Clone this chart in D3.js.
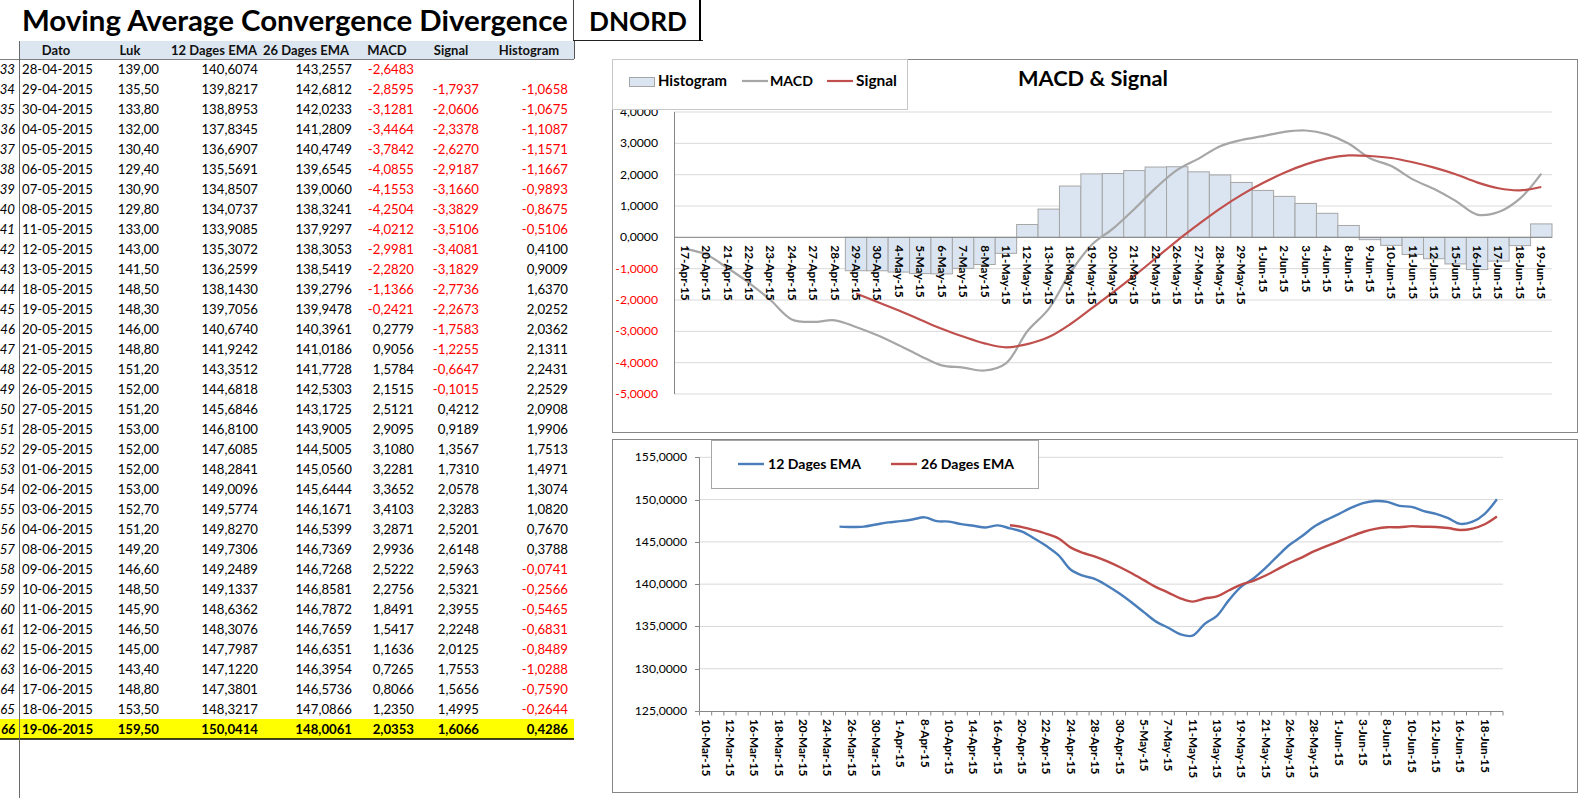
<!DOCTYPE html>
<html>
<head>
<meta charset="utf-8">
<script src="https://cdn.jsdelivr.net/npm/d3@7"></script>
<style>
  body { margin: 0; background: #fff; }
  svg text { font-family: Lato, "Open Sans", sans-serif; }
</style>
</head>
<body>
<svg id="sheet" width="1585" height="798"></svg>
<script>
// ---- table data ----
const rowNums = d3.range(33, 67);
const dato = ['28-04-2015','29-04-2015','30-04-2015','04-05-2015','05-05-2015','06-05-2015','07-05-2015','08-05-2015','11-05-2015','12-05-2015','13-05-2015','18-05-2015','19-05-2015','20-05-2015','21-05-2015','22-05-2015','26-05-2015','27-05-2015','28-05-2015','29-05-2015','01-06-2015','02-06-2015','03-06-2015','04-06-2015','08-06-2015','09-06-2015','10-06-2015','11-06-2015','12-06-2015','15-06-2015','16-06-2015','17-06-2015','18-06-2015','19-06-2015'];
const luk = [139.00,135.50,133.80,132.00,130.40,129.40,130.90,129.80,133.00,143.00,141.50,148.50,148.30,146.00,148.80,151.20,152.00,151.20,153.00,152.00,152.00,153.00,152.70,151.20,149.20,146.60,148.50,145.90,146.50,145.00,143.40,148.80,153.50,159.50];
const ema12 = [140.6074,139.8217,138.8953,137.8345,136.6907,135.5691,134.8507,134.0737,133.9085,135.3072,136.2599,138.1430,139.7056,140.6740,141.9242,143.3512,144.6818,145.6846,146.8100,147.6085,148.2841,149.0096,149.5774,149.8270,149.7306,149.2489,149.1337,148.6362,148.3076,147.7987,147.1220,147.3801,148.3217,150.0414];
const ema26 = [143.2557,142.6812,142.0233,141.2809,140.4749,139.6545,139.0060,138.3241,137.9297,138.3053,138.5419,139.2796,139.9478,140.3961,141.0186,141.7728,142.5303,143.1725,143.9005,144.5005,145.0560,145.6444,146.1671,146.5399,146.7369,146.7268,146.8581,146.7872,146.7659,146.6351,146.3954,146.5736,147.0866,148.0061];
const macd = [-2.6483,-2.8595,-3.1281,-3.4464,-3.7842,-4.0855,-4.1553,-4.2504,-4.0212,-2.9981,-2.2820,-1.1366,-0.2421,0.2779,0.9056,1.5784,2.1515,2.5121,2.9095,3.1080,3.2281,3.3652,3.4103,3.2871,2.9936,2.5222,2.2756,1.8491,1.5417,1.1636,0.7265,0.8066,1.2350,2.0353];
const signal = [null,-1.7937,-2.0606,-2.3378,-2.6270,-2.9187,-3.1660,-3.3829,-3.5106,-3.4081,-3.1829,-2.7736,-2.2673,-1.7583,-1.2255,-0.6647,-0.1015,0.4212,0.9189,1.3567,1.7310,2.0578,2.3283,2.5201,2.6148,2.5963,2.5321,2.3955,2.2248,2.0125,1.7553,1.5656,1.4995,1.6066];
const histogram = [null,-1.0658,-1.0675,-1.1087,-1.1571,-1.1667,-0.9893,-0.8675,-0.5106,0.4100,0.9009,1.6370,2.0252,2.0362,2.1311,2.2431,2.2529,2.0908,1.9906,1.7513,1.4971,1.3074,1.0820,0.7670,0.3788,-0.0741,-0.2566,-0.5465,-0.6831,-0.8489,-1.0288,-0.7590,-0.2644,0.4286];

// ---- chart categories and the rows above the visible table ----
const emaDates = ['10-Mar-15','11-Mar-15','12-Mar-15','13-Mar-15','16-Mar-15','17-Mar-15','18-Mar-15','19-Mar-15','20-Mar-15','23-Mar-15','24-Mar-15','25-Mar-15','26-Mar-15','27-Mar-15','30-Mar-15','31-Mar-15','1-Apr-15','7-Apr-15','8-Apr-15','9-Apr-15','10-Apr-15','13-Apr-15','14-Apr-15','15-Apr-15','16-Apr-15','17-Apr-15','20-Apr-15','21-Apr-15','22-Apr-15','23-Apr-15','24-Apr-15','27-Apr-15','28-Apr-15','29-Apr-15','30-Apr-15','4-May-15','5-May-15','6-May-15','7-May-15','8-May-15','11-May-15','12-May-15','13-May-15','18-May-15','19-May-15','20-May-15','21-May-15','22-May-15','26-May-15','27-May-15','28-May-15','29-May-15','1-Jun-15','2-Jun-15','3-Jun-15','4-Jun-15','8-Jun-15','9-Jun-15','10-Jun-15','11-Jun-15','12-Jun-15','15-Jun-15','16-Jun-15','17-Jun-15','18-Jun-15','19-Jun-15'];
const ema12Early = [146.80,146.75,146.80,147.05,147.30,147.45,147.65,147.90,147.45,147.40,147.10,146.90,146.70,146.95,146.60,146.20,145.40,144.50,143.40,141.70,141.00]; // 25-Mar .. 27-Apr
const ema26Early = [146.97,146.75,146.38,145.95,145.40,144.32,143.70]; // 17-Apr .. 27-Apr
const macdEarly = [-0.37,-0.55,-0.98,-1.45,-2.00,-2.62,-2.70];          // 17-Apr .. 27-Apr
const macdTicks = d3.range(-5, 5);
const emaTicks = d3.range(125, 156, 5);

const svg = d3.select('#sheet');
const comma = (v, n) => v.toFixed(n).replace('.', ',');
const red = '#ff0000';

function fitWidth(t, w) {
  const fs = parseFloat(t.attr('font-size'));
  t.attr('font-size', fs * w / t.node().getComputedTextLength());
  return t;
}

// ================= spreadsheet =================
const rowTop = 59, rowH = 20;

// title + ticker
fitWidth(svg.append('text').attr('x', 22).attr('y', 31)
  .attr('font-size', 28).attr('font-weight', 'bold')
  .text('Moving Average Convergence Divergence'), 546);
fitWidth(svg.append('text').attr('x', 638).attr('y', 31)
  .attr('text-anchor', 'middle')
  .attr('font-size', 28).attr('font-weight', 'bold').text('DNORD'), 98);

svg.append('line').attr('x1', 573.5).attr('x2', 573.5).attr('y1', 0).attr('y2', 40).attr('stroke', '#444');
svg.append('line').attr('x1', 573).attr('x2', 703).attr('y1', 40.5).attr('y2', 40.5).attr('stroke', '#222');
svg.append('line').attr('x1', 700).attr('x2', 700).attr('y1', 0).attr('y2', 41).attr('stroke', '#000').attr('stroke-width', 2);

// header band
svg.append('rect').attr('x', 19).attr('y', 41).attr('width', 555).attr('height', 18).attr('fill', '#dce6f1');
svg.append('line').attr('x1', 0).attr('x2', 574).attr('y1', 59.5).attr('y2', 59.5).attr('stroke', '#7f7f7f');
svg.append('line').attr('x1', 574.5).attr('x2', 574.5).attr('y1', 41).attr('y2', 59).attr('stroke', '#555');

const headers = ['Dato', 'Luk', '12 Dages EMA', '26 Dages EMA', 'MACD', 'Signal', 'Histogram'];
const headerX = [56, 130, 214, 306, 387, 451, 529];
svg.append('g').selectAll('text').data(headers).join('text')
  .attr('x', (d, i) => headerX[i]).attr('y', 54.5)
  .attr('text-anchor', 'middle').attr('font-size', 13).attr('font-weight', 'bold')
  .attr('fill', '#111').text(d => d);

// highlighted last row
svg.append('rect').attr('x', 0).attr('y', rowTop + 33 * rowH).attr('width', 574).attr('height', rowH).attr('fill', '#ffff00');
svg.append('line').attr('x1', 0).attr('x2', 574).attr('y1', rowTop + 34 * rowH).attr('y2', rowTop + 34 * rowH)
  .attr('stroke', '#000').attr('stroke-width', 1.5);

// row number separator
svg.append('line').attr('x1', 19.5).attr('x2', 19.5).attr('y1', 41).attr('y2', 798).attr('stroke', '#6a6a6a');

const rows = svg.append('g').selectAll('g').data(rowNums).join('g')
  .attr('transform', (d, i) => `translate(0,${rowTop + i * rowH + 14.8})`)
  .attr('font-size', 13.2)
  .attr('font-weight', (d, i) => i === 33 ? 'bold' : 'normal');

rows.append('text').attr('x', 15).attr('text-anchor', 'end').attr('font-style', 'italic').text(d => d);
rows.append('text').attr('x', 22).text((d, i) => dato[i]);

const numCols = [
  { vals: luk, x: 159, dec: 2 },
  { vals: ema12, x: 258, dec: 4 },
  { vals: ema26, x: 352, dec: 4 },
  { vals: macd, x: 414, dec: 4 },
  { vals: signal, x: 479, dec: 4 },
  { vals: histogram, x: 568, dec: 4 }
];
numCols.forEach(c => {
  rows.append('text').attr('x', c.x).attr('text-anchor', 'end')
    .attr('fill', (d, i) => c.vals[i] < 0 ? red : '#000')
    .text((d, i) => c.vals[i] == null ? '' : comma(c.vals[i], c.dec));
});

// ================= MACD & Signal chart =================
const macdDates = emaDates.slice(25);
const macdSeries = macdEarly.concat(macd);
const signalSeries = Array(7).fill(null).concat(signal);
const histSeries = Array(7).fill(null).concat(histogram);

const c1 = svg.append('g');
c1.append('rect').attr('x', 612.5).attr('y', 59.5).attr('width', 965).attr('height', 373)
  .attr('fill', '#fff').attr('stroke', '#868686');

const x1 = d3.scaleBand().domain(macdDates).range([674, 1552]).padding(0);
const y1 = d3.scaleLinear().domain([-5, 4]).range([394, 112]);

c1.append('g').selectAll('line').data(macdTicks).join('line')
  .attr('x1', 674).attr('x2', 1552).attr('y1', d => y1(d)).attr('y2', d => y1(d))
  .attr('stroke', '#d9d9d9');

c1.append('g').selectAll('text').data(macdTicks).join('text')
  .attr('x', 658).attr('y', d => y1(d) + 4).attr('text-anchor', 'end')
  .attr('font-size', 12.2).attr('fill', d => d < 0 ? red : '#000')
  .text(d => comma(d, 4));

c1.append('g').selectAll('rect').data(macdDates.map((d, i) => [d, histSeries[i]]).filter(d => d[1] != null)).join('rect')
  .attr('x', d => x1(d[0])).attr('width', x1.bandwidth())
  .attr('y', d => Math.min(y1(d[1]), y1(0))).attr('height', d => Math.abs(y1(d[1]) - y1(0)))
  .attr('fill', '#dbe5f1').attr('stroke', '#a6a6a6');

c1.append('line').attr('x1', 674).attr('x2', 1552).attr('y1', y1(0)).attr('y2', y1(0)).attr('stroke', '#868686');
c1.append('line').attr('x1', 674.5).attr('x2', 674.5).attr('y1', y1(4)).attr('y2', y1(-5)).attr('stroke', '#868686');

const line1 = d3.line()
  .defined(d => d[1] != null)
  .x(d => x1(d[0]) + x1.bandwidth() / 2).y(d => y1(d[1]))
  .curve(d3.curveCatmullRom.alpha(0.5));

c1.append('path').attr('d', line1(macdDates.map((d, i) => [d, macdSeries[i]])))
  .attr('fill', 'none').attr('stroke', '#a6a6a6').attr('stroke-width', 2.2);
c1.append('path').attr('d', line1(macdDates.map((d, i) => [d, signalSeries[i]])))
  .attr('fill', 'none').attr('stroke', '#c0504d').attr('stroke-width', 2.2);

c1.append('g').selectAll('text').data(macdDates).join('text')
  .attr('transform', d => `translate(${x1(d) + x1.bandwidth() / 2 - 4},${y1(0) + 8}) rotate(90)`)
  .attr('font-size', 11.8).attr('font-weight', 'bold').text(d => d);

// legend
c1.append('rect').attr('x', 612.5).attr('y', 59.5).attr('width', 295).attr('height', 50)
  .attr('fill', '#fff').attr('stroke', '#c8c8c8');
c1.append('rect').attr('x', 629.5).attr('y', 77.5).attr('width', 25).attr('height', 9)
  .attr('fill', '#dbe5f1').attr('stroke', '#a6a6a6');
fitWidth(c1.append('text').attr('x', 658).attr('y', 86).attr('font-size', 14).attr('font-weight', 'bold').text('Histogram'), 69);
c1.append('line').attr('x1', 742).attr('x2', 768).attr('y1', 81).attr('y2', 81).attr('stroke', '#a6a6a6').attr('stroke-width', 2.2);
fitWidth(c1.append('text').attr('x', 770).attr('y', 86).attr('font-size', 14).attr('font-weight', 'bold').text('MACD'), 43);
c1.append('line').attr('x1', 827).attr('x2', 853).attr('y1', 81).attr('y2', 81).attr('stroke', '#c0504d').attr('stroke-width', 2.2);
fitWidth(c1.append('text').attr('x', 856).attr('y', 86).attr('font-size', 14).attr('font-weight', 'bold').text('Signal'), 41);

fitWidth(c1.append('text').attr('x', 1093).attr('y', 86).attr('text-anchor', 'middle')
  .attr('font-size', 20).attr('font-weight', 'bold').text('MACD & Signal'), 150);

// ================= EMA chart =================
const ema12Series = Array(11).fill(null).concat(ema12Early, ema12);
const ema26Series = Array(25).fill(null).concat(ema26Early, ema26);

const c2 = svg.append('g');
c2.append('rect').attr('x', 612.5).attr('y', 439.5).attr('width', 965).attr('height', 353)
  .attr('fill', '#fff').attr('stroke', '#868686');

const x2 = d3.scaleBand().domain(emaDates).range([699.5, 1503]).padding(0);
const y2 = d3.scaleLinear().domain([125, 155]).range([711, 457.3]);

c2.append('g').selectAll('line').data(emaTicks.slice(1)).join('line')
  .attr('x1', 699.5).attr('x2', 1503).attr('y1', d => y2(d)).attr('y2', d => y2(d))
  .attr('stroke', '#d9d9d9');

c2.append('g').selectAll('text').data(emaTicks).join('text')
  .attr('x', 687).attr('y', d => y2(d) + 4).attr('text-anchor', 'end')
  .attr('font-size', 12.2).text(d => comma(d, 4));

c2.append('g').selectAll('line').data(emaTicks).join('line')
  .attr('x1', 695).attr('x2', 699.5).attr('y1', d => Math.round(y2(d)) + 0.5).attr('y2', d => Math.round(y2(d)) + 0.5)
  .attr('stroke', '#868686');
c2.append('line').attr('x1', 699.5).attr('x2', 699.5).attr('y1', y2(155)).attr('y2', y2(125)).attr('stroke', '#868686');
c2.append('line').attr('x1', 699.5).attr('x2', 1503).attr('y1', 711.5).attr('y2', 711.5).attr('stroke', '#868686');
c2.append('g').selectAll('line').data(emaDates.concat([null])).join('line')
  .attr('x1', (d, i) => 699.5 + i * x2.step()).attr('x2', (d, i) => 699.5 + i * x2.step())
  .attr('y1', 711.5).attr('y2', 715.5).attr('stroke', '#868686');

c2.append('g').selectAll('text').data(emaDates.filter((d, i) => i % 2 === 0)).join('text')
  .attr('transform', d => `translate(${x2(d) + x2.bandwidth() / 2 - 4},${719}) rotate(90)`)
  .attr('font-size', 11.8).attr('font-weight', 'bold').text(d => d);

const line2 = d3.line()
  .defined(d => d[1] != null)
  .x(d => x2(d[0]) + x2.bandwidth() / 2).y(d => y2(d[1]))
  .curve(d3.curveCatmullRom.alpha(0.5));

c2.append('path').attr('d', line2(emaDates.map((d, i) => [d, ema12Series[i]])))
  .attr('fill', 'none').attr('stroke', '#4a7ebb').attr('stroke-width', 2.4);
c2.append('path').attr('d', line2(emaDates.map((d, i) => [d, ema26Series[i]])))
  .attr('fill', 'none').attr('stroke', '#be4b48').attr('stroke-width', 2.4);

// legend
c2.append('rect').attr('x', 711.5).attr('y', 440.5).attr('width', 327).attr('height', 48)
  .attr('fill', '#fff').attr('stroke', '#a6a6a6');
c2.append('line').attr('x1', 738).attr('x2', 764).attr('y1', 464).attr('y2', 464).attr('stroke', '#4a7ebb').attr('stroke-width', 2.4);
fitWidth(c2.append('text').attr('x', 768).attr('y', 469).attr('font-size', 14).attr('font-weight', 'bold').text('12 Dages EMA'), 93);
c2.append('line').attr('x1', 891).attr('x2', 917).attr('y1', 464).attr('y2', 464).attr('stroke', '#be4b48').attr('stroke-width', 2.4);
fitWidth(c2.append('text').attr('x', 921).attr('y', 469).attr('font-size', 14).attr('font-weight', 'bold').text('26 Dages EMA'), 93);
</script>
</body>
</html>
